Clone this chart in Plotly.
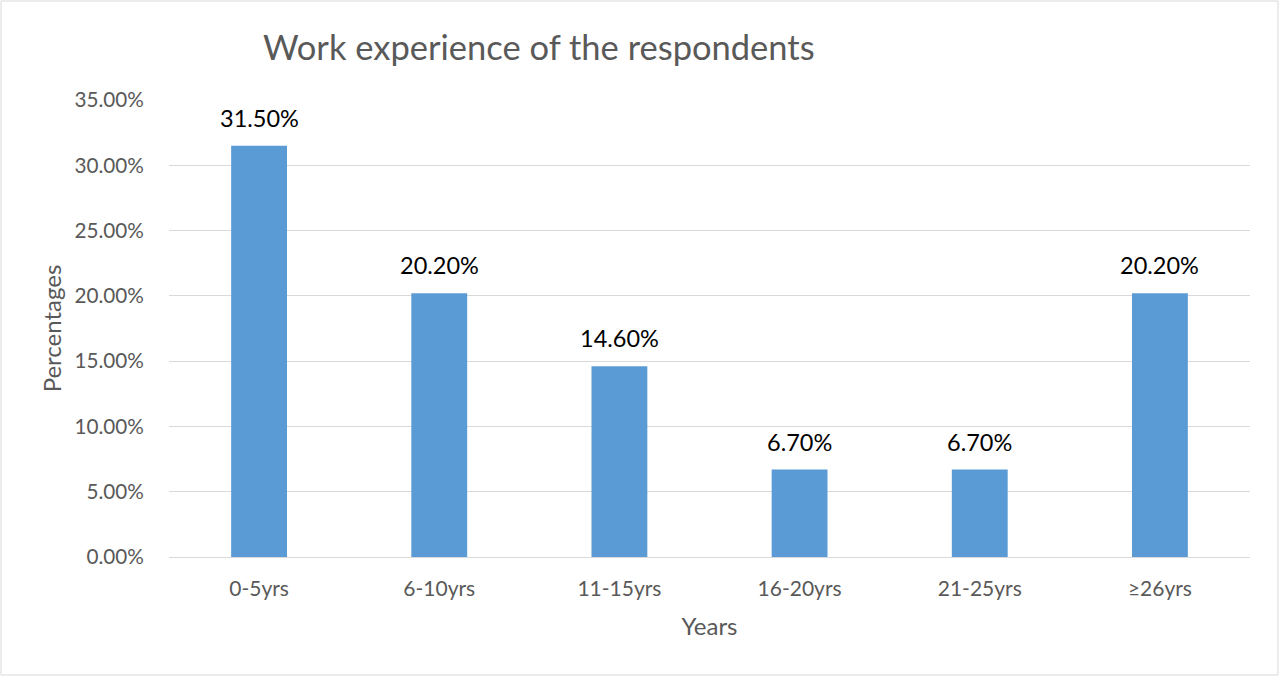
import plotly.graph_objects as go

categories = ["0-5yrs", "6-10yrs", "11-15yrs", "16-20yrs", "21-25yrs", "≥26yrs"]
values = [0.315, 0.202, 0.146, 0.067, 0.067, 0.202]
labels = ["31.50%", "20.20%", "14.60%", "6.70%", "6.70%", "20.20%"]
tick_vals = [0, 0.05, 0.10, 0.15, 0.20, 0.25, 0.30, 0.35]

FONT = "Lato"
GREY = "#595959"

fig = go.Figure()
fig.add_trace(go.Bar(x=categories, y=values, marker=dict(color="#5b9bd5", line=dict(width=0)),
                     hoverinfo="skip"))

for c, v, t in zip(categories, values, labels):
    fig.add_annotation(x=c, y=v, text=t, showarrow=False, yanchor="bottom", yshift=12,
                       font=dict(family=FONT, size=23.5, color="#000000"))

fig.update_layout(
    width=1280, height=676,
    margin=dict(l=169, r=30, t=100, b=119),
    paper_bgcolor="white", plot_bgcolor="white",
    bargap=0.69,
    showlegend=False,
    title=dict(text="Work experience of the respondents", xref="container", yref="container",
               x=263/1280, xanchor="left", y=1-48/676, yanchor="middle",
               font=dict(family=FONT, size=34.5, color=GREY)),
    font=dict(family=FONT, color=GREY),
)
fig.update_yaxes(range=[0, 0.35], tickvals=tick_vals, tickformat=".2%",
                 showgrid=True, gridcolor="#d9d9d9", gridwidth=1,
                 zeroline=True, zerolinecolor="#d9d9d9", zerolinewidth=1,
                 showline=False, ticks="outside", ticklen=20, tickcolor="rgba(0,0,0,0)",
                 tickfont=dict(family=FONT, size=20.7, color=GREY),
                 title=dict(text="Percentages", font=dict(family=FONT, size=24, color=GREY), standoff=5))
fig.update_xaxes(showgrid=False, showline=False, ticks="outside", ticklen=13, tickcolor="rgba(0,0,0,0)",
                 tickfont=dict(family=FONT, size=21, color=GREY),
                 title=dict(text="Years", font=dict(family=FONT, size=24, color=GREY), standoff=18))

W, H = 1081, 457
fig.add_shape(type="rect", xref="paper", yref="paper",
              x0=(1 - 169) / W, x1=(1278 - 169) / W, y0=(557 - 675) / H, y1=(557 - 1) / H,
              line=dict(color="#d9d9d9", width=1), fillcolor="rgba(0,0,0,0)", layer="below")

fig.write_html("out.html")
